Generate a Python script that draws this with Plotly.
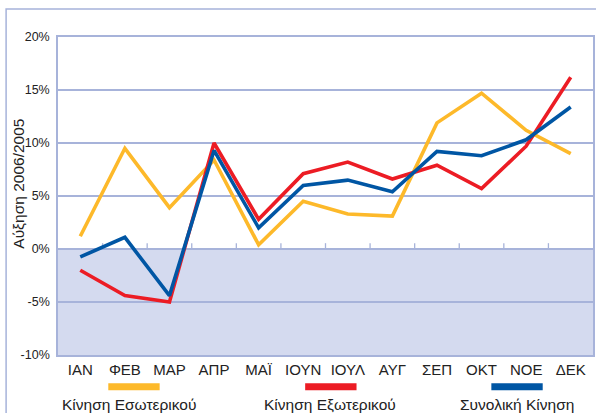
import plotly.graph_objects as go

months = ["ΙΑΝ", "ΦΕΒ", "ΜΑΡ", "ΑΠΡ", "ΜΑΪ", "ΙΟΥΝ", "ΙΟΥΛ", "ΑΥΓ", "ΣΕΠ", "ΟΚΤ", "ΝΟΕ", "ΔΕΚ"]
internal = [1.2, 9.5, 3.9, 8.4, 0.4, 4.5, 3.3, 3.1, 11.9, 14.7, 11.2, 9.0]
external = [-2.0, -4.4, -5.0, 10.0, 2.8, 7.1, 8.2, 6.6, 7.9, 5.7, 9.7, 16.2]
total = [-0.75, 1.1, -4.4, 9.3, 2.0, 6.0, 6.5, 5.4, 9.2, 8.8, 10.3, 13.4]
series_names = ["Κίνηση Εσωτερικού", "Κίνηση Εξωτερικού", "Συνολική Κίνηση"]
colors = ["#FDB92A", "#EC1C24", "#0056A4"]
y_ticks = [-10, -5, 0, 5, 10, 15, 20]

grid = "#A7B3DA"
font = "Liberation Sans, Arial, sans-serif"
txt = "#222"

fig = go.Figure()
for name, vals, col in zip(series_names, [internal, external, total], colors):
    fig.add_trace(go.Scatter(x=months, y=vals, mode="lines", name=name,
                             line=dict(color=col, width=3.6), showlegend=False))

shapes = []
# outer frame
shapes.append(dict(type="rect", xref="paper", yref="paper", x0=-0.097, x1=1.05, y0=-0.3, y1=1.088,
                   line=dict(color=grid, width=1.5), fillcolor="rgba(0,0,0,0)", layer="below"))
# negative shaded band
shapes.append(dict(type="rect", xref="paper", yref="y", x0=0, x1=1, y0=-10, y1=0,
                   fillcolor="#D4DAEF", line=dict(width=0), layer="below"))
# small ticks on zero line at category boundaries
for i in range(len(months) - 1):
    shapes.append(dict(type="line", xref="x", yref="y", x0=i + 0.5, x1=i + 0.5, y0=0, y1=0.55,
                       line=dict(color=grid, width=1.3), layer="below"))
# legend samples
line_x = [0.142, 0.51, 0.858]
text_x = [0.133, 0.508, 0.858]
for cx, col in zip(line_x, colors):
    shapes.append(dict(type="line", xref="paper", yref="paper", x0=cx - 0.048, x1=cx + 0.048,
                       y0=-0.1, y1=-0.1, line=dict(color=col, width=7)))

annotations = []
for cx, name in zip(text_x, series_names):
    annotations.append(dict(x=cx, y=-0.155, xref="paper", yref="paper", text=name, showarrow=False,
                            font=dict(family=font, size=15.5, color=txt), xanchor="center", yanchor="middle"))
# y-axis title
annotations.append(dict(x=-0.074, y=0.54, xref="paper", yref="paper", text="Αύξηση 2006/2005",
                        showarrow=False, textangle=-90, font=dict(family=font, size=15.5, color=txt),
                        xanchor="center", yanchor="middle"))

fig.update_layout(
    width=596, height=413,
    margin=dict(l=58, r=3, t=37, b=58, autoexpand=False),
    paper_bgcolor="white", plot_bgcolor="white",
    shapes=shapes, annotations=annotations,
    font=dict(family=font, size=13, color=txt),
    xaxis=dict(range=[-0.5, 11.5], showgrid=False, showline=True, linecolor=grid, linewidth=1.5,
               mirror=True, ticks="", tickfont=dict(size=15), zeroline=False, automargin=False),
    yaxis=dict(range=[-10, 20], tickvals=y_ticks, ticktext=[f"{v}%" for v in y_ticks],
               showgrid=True, gridcolor=grid, gridwidth=1.5, showline=True, linecolor=grid,
               linewidth=1.5, mirror=True, zeroline=True, zerolinecolor=grid, zerolinewidth=1.5,
               tickfont=dict(size=12.5), ticks="", ticklabelstandoff=4, automargin=False),
)

fig.write_html("out.html", config={"displayModeBar": False},
               post_script="document.body.style.margin='0';document.body.style.overflow='hidden';")
